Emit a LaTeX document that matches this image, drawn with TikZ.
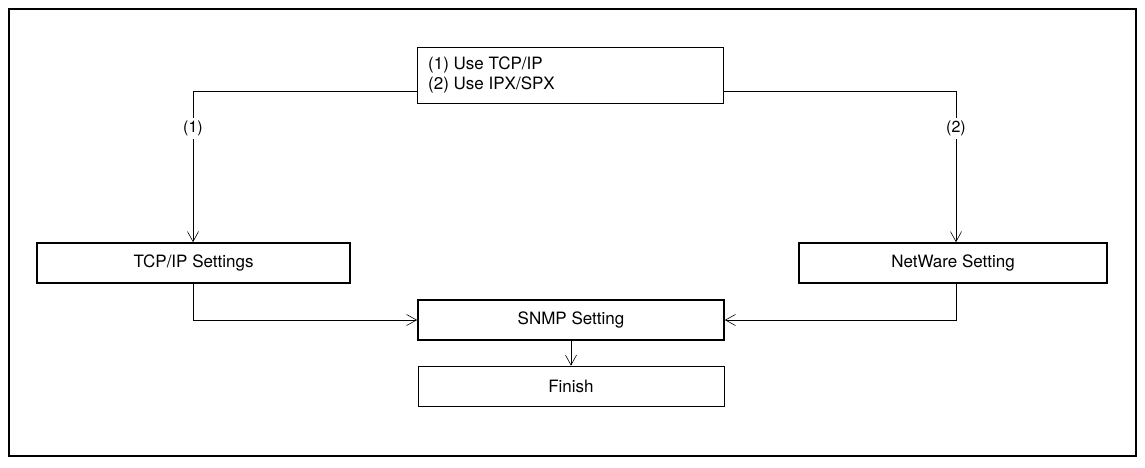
\documentclass[tikz,border=0pt]{standalone}
\usepackage{fontspec}
\setmainfont{TeX Gyre Heros}
\usetikzlibrary{arrows.meta}
\begin{document}
\begin{tikzpicture}[x=1pt,y=-1pt,
  thin box/.style={draw,line width=0.6pt,minimum height=40pt,inner sep=0pt},
  thick box/.style={draw,line width=1.6pt,minimum height=40pt,inner sep=0pt},
  conn/.style={line width=0.6pt,-{Straight Barb[length=10pt,width=11pt]}},
  lbl/.style={fill=white,inner sep=3pt,font=\fontsize{16}{18}\selectfont},
  txt/.style={font=\fontsize{17}{20}\selectfont}]
\useasboundingbox (0,0) rectangle (1145,467);
\draw[line width=1.2pt] (9,9) rectangle (1136,456);
\node[thin box,minimum width=306pt,minimum height=56pt,anchor=north west] (top) at (417,47) {};
\node[anchor=north west,align=left,txt,inner sep=0pt] (toptext) at (428,57) {(1) Use TCP/IP\\(2) Use IPX/SPX};
\node[thick box,minimum width=313pt,txt] (tcp) at (193.5,263) {TCP/IP Settings};
\node[thick box,minimum width=308pt,txt] (nw) at (953,263) {NetWare Setting};
\node[thick box,minimum width=306pt,txt] (snmp) at (571,320) {SNMP Setting};
\node[thin box,minimum width=306pt,txt] (fin) at (571,386) {Finish};
\coordinate (tl) at (193,91);
\coordinate (tr) at (956,91);
\draw[conn] (top.west |- tl) -- (tl) -- (tl |- tcp.north) node[lbl,pos=0.25] {(1)};
\draw[conn] (top.east |- tr) -- (tr) -- (tr |- nw.north) node[lbl,pos=0.25] {(2)};
\draw[conn] (tcp.south) |- (snmp.west);
\draw[conn] (nw.south -| tr) |- (snmp.east);
\draw[conn] (snmp.south) -- (fin.north);
\end{tikzpicture}
\end{document}
